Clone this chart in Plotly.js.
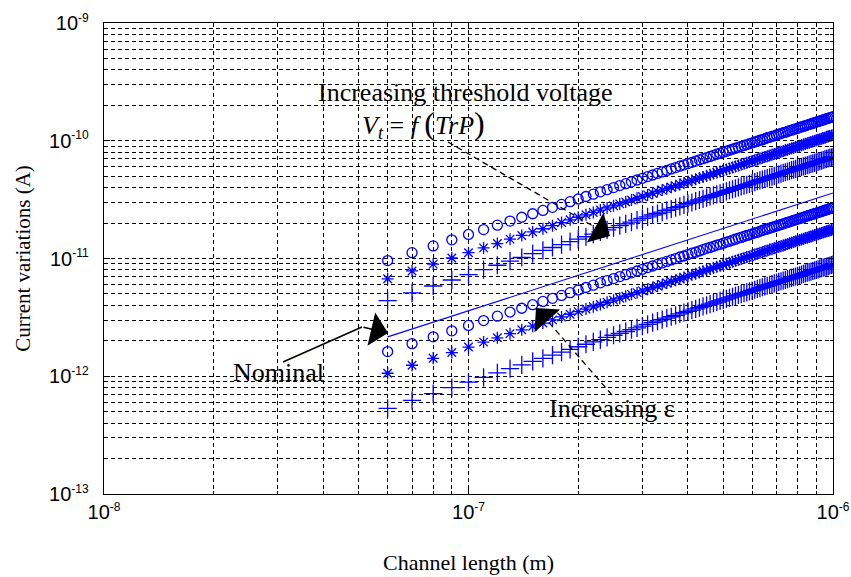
<!DOCTYPE html>
<html><head><meta charset="utf-8">
<script src="https://cdn.plot.ly/plotly-3.0.1.min.js"></script>
<style>html,body{margin:0;padding:0;background:#fff}#chart{width:851px;height:577px}</style>
</head><body><div id="chart"></div>
<script>
// Channel length (m)
const channelLength = [
60e-9,70e-9,80e-9,90e-9,100e-9,110e-9,120e-9,130e-9,140e-9,150e-9,
160e-9,170e-9,180e-9,190e-9,200e-9,210e-9,220e-9,230e-9,240e-9,250e-9,
260e-9,270e-9,280e-9,290e-9,300e-9,310e-9,320e-9,330e-9,340e-9,350e-9,
360e-9,370e-9,380e-9,390e-9,400e-9,410e-9,420e-9,430e-9,440e-9,450e-9,
460e-9,470e-9,480e-9,490e-9,500e-9,510e-9,520e-9,530e-9,540e-9,550e-9,
560e-9,570e-9,580e-9,590e-9,600e-9,610e-9,620e-9,630e-9,640e-9,650e-9,
660e-9,670e-9,680e-9,690e-9,700e-9,710e-9,720e-9,730e-9,740e-9,750e-9,
760e-9,770e-9,780e-9,790e-9,800e-9,810e-9,820e-9,830e-9,840e-9,850e-9,
860e-9,870e-9,880e-9,890e-9,900e-9,910e-9,920e-9,930e-9,940e-9,950e-9,
960e-9,970e-9,980e-9,990e-9,1000e-9];

// Threshold-voltage group (top)
const vtCircle = [
9.6e-12,11.2e-12,12.8e-12,14.4e-12,16.0e-12,17.6e-12,19.2e-12,20.8e-12,22.4e-12,24.0e-12,
25.6e-12,27.2e-12,28.8e-12,30.4e-12,32.0e-12,33.6e-12,35.2e-12,36.8e-12,38.4e-12,40.0e-12,
41.6e-12,43.2e-12,44.8e-12,46.4e-12,48.0e-12,49.6e-12,51.2e-12,52.8e-12,54.4e-12,56.0e-12,
57.6e-12,59.2e-12,60.8e-12,62.4e-12,64.0e-12,65.6e-12,67.2e-12,68.8e-12,70.4e-12,72.0e-12,
73.6e-12,75.2e-12,76.8e-12,78.4e-12,80.0e-12,81.6e-12,83.2e-12,84.8e-12,86.4e-12,88.0e-12,
89.6e-12,91.2e-12,92.8e-12,94.4e-12,96.0e-12,97.6e-12,99.2e-12,101e-12,102e-12,104e-12,
106e-12,107e-12,109e-12,110e-12,112e-12,114e-12,115e-12,117e-12,118e-12,120e-12,
122e-12,123e-12,125e-12,126e-12,128e-12,130e-12,131e-12,133e-12,134e-12,136e-12,
138e-12,139e-12,141e-12,142e-12,144e-12,146e-12,147e-12,149e-12,150e-12,152e-12,
154e-12,155e-12,157e-12,158e-12,160e-12];

const vtStar = [
6.72e-12,7.84e-12,8.96e-12,10.1e-12,11.2e-12,12.3e-12,13.4e-12,14.6e-12,15.7e-12,16.8e-12,
17.9e-12,19.0e-12,20.2e-12,21.3e-12,22.4e-12,23.5e-12,24.6e-12,25.8e-12,26.9e-12,28.0e-12,
29.1e-12,30.2e-12,31.4e-12,32.5e-12,33.6e-12,34.7e-12,35.8e-12,37.0e-12,38.1e-12,39.2e-12,
40.3e-12,41.4e-12,42.6e-12,43.7e-12,44.8e-12,45.9e-12,47.0e-12,48.2e-12,49.3e-12,50.4e-12,
51.5e-12,52.6e-12,53.8e-12,54.9e-12,56.0e-12,57.1e-12,58.2e-12,59.4e-12,60.5e-12,61.6e-12,
62.7e-12,63.8e-12,65.0e-12,66.1e-12,67.2e-12,68.3e-12,69.4e-12,70.6e-12,71.7e-12,72.8e-12,
73.9e-12,75.0e-12,76.2e-12,77.3e-12,78.4e-12,79.5e-12,80.6e-12,81.8e-12,82.9e-12,84.0e-12,
85.1e-12,86.2e-12,87.4e-12,88.5e-12,89.6e-12,90.7e-12,91.8e-12,93.0e-12,94.1e-12,95.2e-12,
96.3e-12,97.4e-12,98.6e-12,99.7e-12,101e-12,102e-12,103e-12,104e-12,105e-12,106e-12,
108e-12,109e-12,110e-12,111e-12,112e-12];

const vtPlus = [
4.38e-12,5.11e-12,5.84e-12,6.57e-12,7.30e-12,8.03e-12,8.76e-12,9.49e-12,10.2e-12,11.0e-12,
11.7e-12,12.4e-12,13.1e-12,13.9e-12,14.6e-12,15.3e-12,16.1e-12,16.8e-12,17.5e-12,18.3e-12,
19.0e-12,19.7e-12,20.4e-12,21.2e-12,21.9e-12,22.6e-12,23.4e-12,24.1e-12,24.8e-12,25.6e-12,
26.3e-12,27.0e-12,27.7e-12,28.5e-12,29.2e-12,29.9e-12,30.7e-12,31.4e-12,32.1e-12,32.9e-12,
33.6e-12,34.3e-12,35.0e-12,35.8e-12,36.5e-12,37.2e-12,38.0e-12,38.7e-12,39.4e-12,40.2e-12,
40.9e-12,41.6e-12,42.3e-12,43.1e-12,43.8e-12,44.5e-12,45.3e-12,46.0e-12,46.7e-12,47.5e-12,
48.2e-12,48.9e-12,49.6e-12,50.4e-12,51.1e-12,51.8e-12,52.6e-12,53.3e-12,54.0e-12,54.8e-12,
55.5e-12,56.2e-12,56.9e-12,57.7e-12,58.4e-12,59.1e-12,59.9e-12,60.6e-12,61.3e-12,62.1e-12,
62.8e-12,63.5e-12,64.2e-12,65.0e-12,65.7e-12,66.4e-12,67.2e-12,67.9e-12,68.6e-12,69.4e-12,
70.1e-12,70.8e-12,71.5e-12,72.3e-12,73.0e-12];

// Nominal
const nominal = [
2.16e-12,2.52e-12,2.88e-12,3.24e-12,3.60e-12,3.96e-12,4.32e-12,4.68e-12,5.04e-12,5.40e-12,
5.76e-12,6.12e-12,6.48e-12,6.84e-12,7.20e-12,7.56e-12,7.92e-12,8.28e-12,8.64e-12,9.00e-12,
9.36e-12,9.72e-12,10.1e-12,10.4e-12,10.8e-12,11.2e-12,11.5e-12,11.9e-12,12.2e-12,12.6e-12,
13.0e-12,13.3e-12,13.7e-12,14.0e-12,14.4e-12,14.8e-12,15.1e-12,15.5e-12,15.8e-12,16.2e-12,
16.6e-12,16.9e-12,17.3e-12,17.6e-12,18.0e-12,18.4e-12,18.7e-12,19.1e-12,19.4e-12,19.8e-12,
20.2e-12,20.5e-12,20.9e-12,21.2e-12,21.6e-12,22.0e-12,22.3e-12,22.7e-12,23.0e-12,23.4e-12,
23.8e-12,24.1e-12,24.5e-12,24.8e-12,25.2e-12,25.6e-12,25.9e-12,26.3e-12,26.6e-12,27.0e-12,
27.4e-12,27.7e-12,28.1e-12,28.4e-12,28.8e-12,29.2e-12,29.5e-12,29.9e-12,30.2e-12,30.6e-12,
31.0e-12,31.3e-12,31.7e-12,32.0e-12,32.4e-12,32.8e-12,33.1e-12,33.5e-12,33.8e-12,34.2e-12,
34.6e-12,34.9e-12,35.3e-12,35.6e-12,36.0e-12];

// Epsilon group (bottom)
const epsCircle = [
1.62e-12,1.89e-12,2.16e-12,2.43e-12,2.70e-12,2.97e-12,3.24e-12,3.51e-12,3.78e-12,4.05e-12,
4.32e-12,4.59e-12,4.86e-12,5.13e-12,5.40e-12,5.67e-12,5.94e-12,6.21e-12,6.48e-12,6.75e-12,
7.02e-12,7.29e-12,7.56e-12,7.83e-12,8.10e-12,8.37e-12,8.64e-12,8.91e-12,9.18e-12,9.45e-12,
9.72e-12,9.99e-12,10.3e-12,10.5e-12,10.8e-12,11.1e-12,11.3e-12,11.6e-12,11.9e-12,12.2e-12,
12.4e-12,12.7e-12,13.0e-12,13.2e-12,13.5e-12,13.8e-12,14.0e-12,14.3e-12,14.6e-12,14.9e-12,
15.1e-12,15.4e-12,15.7e-12,15.9e-12,16.2e-12,16.5e-12,16.7e-12,17.0e-12,17.3e-12,17.6e-12,
17.8e-12,18.1e-12,18.4e-12,18.6e-12,18.9e-12,19.2e-12,19.4e-12,19.7e-12,20.0e-12,20.3e-12,
20.5e-12,20.8e-12,21.1e-12,21.3e-12,21.6e-12,21.9e-12,22.1e-12,22.4e-12,22.7e-12,23.0e-12,
23.2e-12,23.5e-12,23.8e-12,24.0e-12,24.3e-12,24.6e-12,24.8e-12,25.1e-12,25.4e-12,25.7e-12,
25.9e-12,26.2e-12,26.5e-12,26.7e-12,27.0e-12];

const epsStar = [
1.06e-12,1.24e-12,1.42e-12,1.59e-12,1.77e-12,1.95e-12,2.12e-12,2.30e-12,2.48e-12,2.66e-12,
2.83e-12,3.01e-12,3.19e-12,3.36e-12,3.54e-12,3.72e-12,3.89e-12,4.07e-12,4.25e-12,4.43e-12,
4.60e-12,4.78e-12,4.96e-12,5.13e-12,5.31e-12,5.49e-12,5.66e-12,5.84e-12,6.02e-12,6.20e-12,
6.37e-12,6.55e-12,6.73e-12,6.90e-12,7.08e-12,7.26e-12,7.43e-12,7.61e-12,7.79e-12,7.97e-12,
8.14e-12,8.32e-12,8.50e-12,8.67e-12,8.85e-12,9.03e-12,9.20e-12,9.38e-12,9.56e-12,9.74e-12,
9.91e-12,10.1e-12,10.3e-12,10.4e-12,10.6e-12,10.8e-12,11.0e-12,11.2e-12,11.3e-12,11.5e-12,
11.7e-12,11.9e-12,12.0e-12,12.2e-12,12.4e-12,12.6e-12,12.7e-12,12.9e-12,13.1e-12,13.3e-12,
13.5e-12,13.6e-12,13.8e-12,14.0e-12,14.2e-12,14.3e-12,14.5e-12,14.7e-12,14.9e-12,15.0e-12,
15.2e-12,15.4e-12,15.6e-12,15.8e-12,15.9e-12,16.1e-12,16.3e-12,16.5e-12,16.6e-12,16.8e-12,
17.0e-12,17.2e-12,17.3e-12,17.5e-12,17.7e-12];

const epsPlus = [
0.534e-12,0.623e-12,0.712e-12,0.801e-12,0.890e-12,0.979e-12,1.07e-12,1.16e-12,1.25e-12,1.34e-12,
1.42e-12,1.51e-12,1.60e-12,1.69e-12,1.78e-12,1.87e-12,1.96e-12,2.05e-12,2.14e-12,2.23e-12,
2.31e-12,2.40e-12,2.49e-12,2.58e-12,2.67e-12,2.76e-12,2.85e-12,2.94e-12,3.03e-12,3.12e-12,
3.20e-12,3.29e-12,3.38e-12,3.47e-12,3.56e-12,3.65e-12,3.74e-12,3.83e-12,3.92e-12,4.01e-12,
4.09e-12,4.18e-12,4.27e-12,4.36e-12,4.45e-12,4.54e-12,4.63e-12,4.72e-12,4.81e-12,4.90e-12,
4.98e-12,5.07e-12,5.16e-12,5.25e-12,5.34e-12,5.43e-12,5.52e-12,5.61e-12,5.70e-12,5.79e-12,
5.87e-12,5.96e-12,6.05e-12,6.14e-12,6.23e-12,6.32e-12,6.41e-12,6.50e-12,6.59e-12,6.68e-12,
6.76e-12,6.85e-12,6.94e-12,7.03e-12,7.12e-12,7.21e-12,7.30e-12,7.39e-12,7.48e-12,7.57e-12,
7.65e-12,7.74e-12,7.83e-12,7.92e-12,8.01e-12,8.10e-12,8.19e-12,8.28e-12,8.37e-12,8.46e-12,
8.54e-12,8.63e-12,8.72e-12,8.81e-12,8.90e-12];

// Tick values and labels
const xMajorVals = [1e-8, 1e-7, 1e-6];
const xTickLabels = ['10<sup>-8</sup>', '10<sup>-7</sup>', '10<sup>-6</sup>'];
const xMinorVals = [2e-8,3e-8,4e-8,5e-8,6e-8,7e-8,8e-8,9e-8,
                    2e-7,3e-7,4e-7,5e-7,6e-7,7e-7,8e-7,9e-7];
const yMajorVals = [1e-13, 1e-12, 1e-11, 1e-10, 1e-9];
const yTickLabels = ['10<sup>-13</sup>', '10<sup>-12</sup>', '10<sup>-11</sup>', '10<sup>-10</sup>', '10<sup>-9</sup>'];
const yMinorVals = [2e-13,3e-13,4e-13,5e-13,6e-13,7e-13,8e-13,9e-13,
                    2e-12,3e-12,4e-12,5e-12,6e-12,7e-12,8e-12,9e-12,
                    2e-11,3e-11,4e-11,5e-11,6e-11,7e-11,8e-11,9e-11,
                    2e-10,3e-10,4e-10,5e-10,6e-10,7e-10,8e-10,9e-10];

const smallSup = t => t.replace('<sup>','<sup><span style="font-size:12px">').replace('</sup>','</span></sup>');

const blue = '#0000ff';
function markerTrace(y, symbol, size) {
  return {x: channelLength, y: y, mode: 'markers', type: 'scatter',
          marker: {symbol: symbol, size: size, color: blue, line: {color: blue, width: 1.3}},
          hoverinfo: 'x+y', showlegend: false};
}
const data = [
  {x: channelLength, y: nominal, mode: 'lines', type: 'scatter', line: {color: blue, width: 1.1}, showlegend: false},
  markerTrace(vtCircle, 'circle-open', 10),
  markerTrace(vtStar, 'asterisk-open', 10),
  markerTrace(vtPlus, 'cross-thin-open', 13),
  markerTrace(epsCircle, 'circle-open', 10),
  markerTrace(epsStar, 'asterisk-open', 10),
  markerTrace(epsPlus, 'cross-thin-open', 13)
];

const L = 104, R = 833, T = 23, B = 494;
const px = v => (v - L) / (R - L);
const py = v => (B - v) / (B - T);

const serif = 'Liberation Serif, Times New Roman, serif';
const annFont = {family: serif, size: 26, color: '#000'};

function axisCommon(majors, labels, minors, rng) {
  return {type: 'log', range: rng, tickmode: 'array', tickvals: majors, ticktext: labels.map(smallSup),
          showgrid: true, gridcolor: '#000', gridwidth: 1, griddash: '4px,3px',
          showline: true, linecolor: '#000', linewidth: 1.3, mirror: 'ticks',
          ticks: 'inside', ticklen: 6, tickcolor: '#000', tickwidth: 1,
          minor: {tickmode: 'array', tickvals: minors, ticks: 'inside', ticklen: 3, tickcolor: '#000',
                  showgrid: true, gridcolor: '#000', gridwidth: 1, griddash: '4px,3px'},
          tickfont: {family: 'Liberation Sans, Arial, sans-serif', size: 20, color: '#000'},
          zeroline: false, fixedrange: true};
}

const layout = {
  width: 851, height: 577,
  margin: {l: L, r: 851 - R, t: T, b: 577 - B},
  paper_bgcolor: '#fff', plot_bgcolor: '#fff',
  showlegend: false,
  xaxis: Object.assign(axisCommon(xMajorVals, xTickLabels, xMinorVals, [-8, -6]), {
    title: {text: 'Channel length (m)', font: {family: serif, size: 22, color: '#000'}, standoff: 32}
  }),
  yaxis: Object.assign(axisCommon(yMajorVals, yTickLabels, yMinorVals, [-13, -9]), {
    title: {text: 'Current variations (A)', font: {family: serif, size: 21, color: '#000'}, standoff: 12},
    ticklabelstandoff: 10
  }),
  shapes: [
    {type: 'line', xref: 'paper', yref: 'paper', x0: px(448), y0: py(142), x1: px(598), y1: py(229),
     line: {color: '#000', width: 1.3, dash: '6px,4px'}},
    {type: 'line', xref: 'paper', yref: 'paper', x0: px(283), y0: py(362), x1: px(362), y1: py(327),
     line: {color: '#000', width: 1.5}},
    {type: 'line', xref: 'paper', yref: 'paper', x0: px(612), y0: py(395), x1: px(545), y1: py(318),
     line: {color: '#000', width: 1.3, dash: '6px,4px'}}
  ],
  annotations: [
    {xref: 'paper', yref: 'paper', x: px(465), y: py(93), text: 'Increasing threshold voltage',
     showarrow: false, font: annFont, xanchor: 'center', yanchor: 'middle'},
    {xref: 'paper', yref: 'paper', x: px(423), y: py(124),
     text: '<i>V</i><sub><i>t</i></sub> = <i>f</i> <span style="font-size:32px">(</span><i>TrP</i><span style="font-size:32px">)</span>',
     showarrow: false, font: annFont, xanchor: 'center', yanchor: 'middle'},
    {xref: 'paper', yref: 'paper', x: px(278), y: py(372), text: 'Nominal',
     showarrow: false, font: annFont, xanchor: 'center', yanchor: 'middle'},
    {xref: 'paper', yref: 'paper', x: px(612), y: py(408), text: 'Increasing ε',
     showarrow: false, font: annFont, xanchor: 'center', yanchor: 'middle'},
    // arrow heads
    {xref: 'paper', yref: 'paper', x: px(610), y: py(236), ax: -16, ay: -9, text: '',
     showarrow: true, arrowhead: 1, arrowsize: 3.8, arrowwidth: 1.5, arrowcolor: '#000'},
    {xref: 'paper', yref: 'paper', x: px(388), y: py(333), ax: -26, ay: -6, text: '',
     showarrow: true, arrowhead: 1, arrowsize: 3.8, arrowwidth: 1.5, arrowcolor: '#000'},
    {xref: 'paper', yref: 'paper', x: px(536), y: py(308), ax: 11, ay: 12.5, text: '',
     showarrow: true, arrowhead: 1, arrowsize: 3.8, arrowwidth: 1.5, arrowcolor: '#000'}
  ]
};

Plotly.newPlot('chart', data, layout, {displayModeBar: false, staticPlot: true});
</script>
</body></html>
